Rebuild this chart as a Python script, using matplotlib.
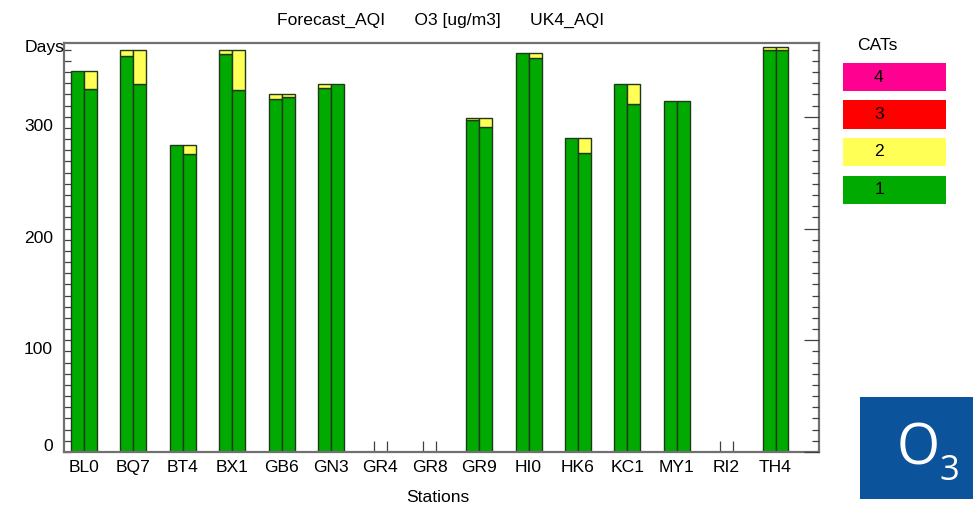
import numpy as np
import matplotlib
matplotlib.use('Agg')
import matplotlib.pyplot as plt
from matplotlib.patches import Rectangle
from matplotlib.ticker import MultipleLocator

plt.rcParams['font.family'] = ['Liberation Sans', 'DejaVu Sans']

stations = ['BL0', 'BQ7', 'BT4', 'BX1', 'GB6', 'GN3', 'GR4', 'GR8',
            'GR9', 'HI0', 'HK6', 'KC1', 'MY1', 'RI2', 'TH4']

# days per AQI band, left bar = Forecast_AQI, right bar = UK4_AQI
forecast_cat1 = [341, 354, 275, 356, 316, 326, 0, 0, 297, 357, 281, 329, 314, 0, 360]
forecast_cat2 = [0, 6, 0, 4, 4, 3, 0, 0, 2, 0, 0, 0, 0, 0, 2]
uk4_cat1 = [325, 329, 267, 324, 318, 329, 0, 0, 291, 353, 268, 311, 314, 0, 360]
uk4_cat2 = [16, 31, 8, 36, 2, 0, 0, 0, 8, 4, 13, 18, 0, 0, 2]

cat_labels = ['4', '3', '2', '1']
cat_colors = ['#ff0090', '#ff0000', '#ffff55', '#00aa00']
yticks = [0, 100, 200, 300]

green = cat_colors[3]
yellow = cat_colors[2]
edge = '#1f3a1a'
fs = 12.6

fig = plt.figure(figsize=(9.73, 5.15), dpi=100)
ax = fig.add_axes([0.0658, 0.1223, 0.7759, 0.7942])

x = np.arange(len(stations))
w = 0.263
off = w / 2


def stack(xpos, c1, c2):
    c1 = np.array(c1, dtype=float)
    c2 = np.array(c2, dtype=float)
    ax.bar(xpos, c1, w, color=green, edgecolor=edge,
           linewidth=np.where(c1 > 0, 1.0, 0.0), zorder=2)
    ax.bar(xpos, c2, w, bottom=c1, color=yellow, edgecolor=edge,
           linewidth=np.where(c2 > 0, 1.0, 0.0), zorder=2)


stack(x - off, forecast_cat1, forecast_cat2)
stack(x + off, uk4_cat1, uk4_cat2)

ax.set_xlim(-0.405, 14.88)
ax.set_ylim(0, 366)

for s in ax.spines.values():
    s.set_color('#707070')
    s.set_linewidth(1.6)

# x: small ticks under each bar, station names centred on the pair
ax.set_xticks(np.concatenate([x - off, x + off]))
ax.set_xticklabels([])
ax.tick_params(axis='x', which='major', direction='in', length=8,
               color='#404040', width=0.9)
ax.set_xticks(x, stations, minor=True)
ax.tick_params(axis='x', which='minor', length=0, pad=6, labelsize=fs)

# y: tick every 10 days, labels drawn by hand
ax.yaxis.set_major_locator(MultipleLocator(100))
ax.yaxis.set_minor_locator(MultipleLocator(10))
ax.set_yticklabels([])
ax.tick_params(axis='y', which='both', direction='in', length=5,
               color='#404040', width=0.9)
for v in yticks:
    ax.annotate(str(v), xy=(0, v), xycoords=('axes fraction', 'data'),
                xytext=(-8, -7 if v else 4), textcoords='offset points',
                ha='right', va='center', fontsize=fs)

ax2 = ax.twinx()
ax2.set_ylim(ax.get_ylim())
ax2.yaxis.set_major_locator(MultipleLocator(100))
ax2.yaxis.set_minor_locator(MultipleLocator(10))
ax2.set_yticklabels([])
ax2.tick_params(axis='y', which='minor', direction='in', length=5,
                color='#404040', width=0.9)
ax2.tick_params(axis='y', which='major', direction='in', length=11,
                color='#404040', width=0.9)
for s in ax2.spines.values():
    s.set_visible(False)

ax.annotate('Days', xy=(0, 1), xycoords='axes fraction', xytext=(0, -3),
            textcoords='offset points', ha='right', va='center', fontsize=fs)
fig.text(441 / 973, 1 - 20 / 515,
         'Forecast_AQI      O3 [ug/m3]      UK4_AQI',
         ha='center', va='center', fontsize=fs)
fig.text(438 / 973, 1 - 497 / 515, 'Stations', ha='center', va='center',
         fontsize=fs)

# legend boxes
fig.text(877 / 973, 1 - 46 / 515, 'CATs', ha='center', va='center',
         fontsize=fs)
for i, (lab, col) in enumerate(zip(cat_labels, cat_colors)):
    top = 63 + i * 37.5
    fig.add_artist(Rectangle((843 / 973, 1 - (top + 28) / 515), 103 / 973,
                             28 / 515, transform=fig.transFigure,
                             facecolor=col, edgecolor='none'))
    fig.text(879 / 973, 1 - (top + 14) / 515, lab, ha='center',
             va='center', fontsize=fs)

# pollutant badge
fig.add_artist(Rectangle((860 / 973, 1 - 499 / 515), 113 / 973, 102 / 515,
                         transform=fig.transFigure, facecolor='#0b539a',
                         edgecolor='none'))
fig.text(918 / 973, 1 - 450 / 515, 'O', ha='center', va='center',
         color='white', fontsize=40, family='Open Sans')
fig.text(949 / 973, 1 - 471 / 515, '3', ha='center', va='center',
         color='white', fontsize=25, family='Open Sans')

fig.savefig('out.png', dpi=100)
